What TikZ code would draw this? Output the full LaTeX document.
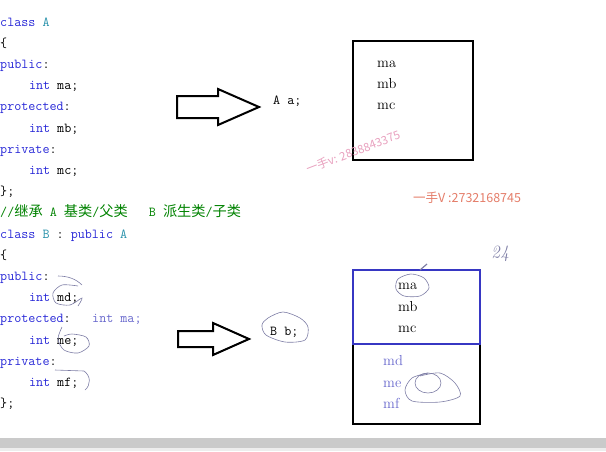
\documentclass[tikz,border=0pt]{standalone}
\usepackage{fontspec}
\newfontfamily\cjk{Noto Sans CJK SC}
\usetikzlibrary{positioning}
\definecolor{kwblue}{RGB}{40,40,215}
\definecolor{clsteal}{RGB}{40,145,170}
\definecolor{cmtgreen}{RGB}{0,130,0}
\definecolor{penblue}{RGB}{105,105,205}
\definecolor{boxblue}{RGB}{55,55,195}
\definecolor{inkgray}{RGB}{125,125,165}
\definecolor{markpink}{RGB}{232,160,190}
\definecolor{markorange}{RGB}{228,125,105}
\definecolor{bargray}{RGB}{202,202,202}

\newcommand{\kw}[1]{\textcolor{kwblue}{#1}}
\newcommand{\cls}[1]{\textcolor{clsteal}{#1}}

\tikzset{
  code/.style={anchor=base west, inner sep=0pt, font=\fontsize{13.7}{16}\ttfamily},
  member/.style={anchor=base west, inner sep=0pt, font=\fontsize{14.5}{16}\rmfamily},
  blockarrow/.style={draw, line width=2pt, fill=white, line join=miter},
  objbox/.style={draw, line width=2.4pt, inner sep=0pt, anchor=north west},
  ink/.style={inkgray, line width=0.6pt},
}

\begin{document}
\begin{tikzpicture}[x=1pt, y=-1pt]
  \useasboundingbox (0,0) rectangle (606,451);
  % class A
  \foreach \i/\txt in {0/{\kw{class} \cls{A}}, 1/{\{}, 2/{\kw{public}:}, 4/{\kw{protected}:}, 6/{\kw{private}:}, 8/{\};}}
    \node[code] (codea\i) at (0,26+21.2*\i) {\txt};
  \foreach \i/\var in {3/ma, 5/mb, 7/mc}
    \node[code] (codea\i) at (28.8,26+21.2*\i) {\kw{int} \var;};
  % class B
  \node[code, text=cmtgreen] (comment) at (0,26+21.2*9)
    {//{\cjk\fontsize{14.2}{16}\selectfont 继承} A {\cjk\fontsize{14.2}{16}\selectfont 基类}/{\cjk\fontsize{14.2}{16}\selectfont 父类}\ \ \ B {\cjk\fontsize{14.2}{16}\selectfont 派生类}/{\cjk\fontsize{14.2}{16}\selectfont 子类}};
  \foreach \i/\txt in {10/{\kw{class} \cls{B} : \kw{public} \cls{A}}, 11/{\{}, 12/{\kw{public}:}, 14/{\kw{protected}:}, 16/{\kw{private}:}, 18/{\};}}
    \node[code] (codeb\i) at (0,26+21.2*\i) {\txt};
  \foreach \i/\var in {13/md, 15/me, 17/mf}
    \node[code] (codeb\i) at (28.8,26+21.2*\i) {\kw{int} \var;};
  \node[code, text=penblue] (inherited) at (92,26+21.2*14) {int ma;};

  % object a
  \draw[blockarrow] (177,96) -- (218,96) -- (218,89) -- (259,107) -- (218,125) -- (218,118) -- (177,118) -- cycle;
  \node[code] (obja) at (273,104) {A a;};
  \node[objbox, minimum width=120, minimum height=119] (boxa) at (352,40) {};
  \foreach \y/\m in {67/ma, 88/mb, 109/mc}
    \node[member] (a\m) at (377,\y) {\m};

  % object b
  \draw[blockarrow] (178,331) -- (213,331) -- (213,323) -- (249,339) -- (213,355) -- (213,347) -- (178,347) -- cycle;
  \node[code] (objb) at (270,335) {B b;};
  \node[objbox, minimum width=127, minimum height=154] (boxb) at (352,269) {};
  \node[objbox, draw=boxblue, line width=2pt, minimum width=127, minimum height=74] (basepart) at (352,269) {};
  \foreach \y/\m in {289/ma, 311/mb, 332/mc}
    \node[member] (b\m) at (398,\y) {\m};
  \foreach \y/\m in {365/md, 387/me, 408/mf}
    \node[member, text=penblue] (b\m) at (383,\y) {\m};

  % pen marks
  \draw[ink] plot[smooth cycle] coordinates {(398,279) (411,274) (424,278) (429,288) (420,296) (404,296) (396,289)};
  \draw[inkgray, line width=1.2pt] (420,270) -- (427,264);
  \draw[ink] (428,383) ellipse [x radius=13, y radius=10];
  \draw[ink] plot[smooth] coordinates {(420,376) (440,373) (455,383) (460,396) (440,402) (412,401) (405,390) (412,378) (428,373)};
  \draw[ink] plot[smooth cycle] coordinates {(268,318) (283,312) (300,318) (308,327) (305,340) (285,342) (266,335) (262,325)};
  \draw[ink] (58,276) .. controls (68,276) and (76,279) .. (82,285);
  \draw[ink] plot[smooth] coordinates {(78,286) (62,285) (53,293) (56,303) (70,305) (82,298) (78,306)};
  \draw[ink] plot[smooth] coordinates {(62,327) (58,339) (64,350) (78,353) (89,346) (86,337) (72,334) (64,336)};
  \draw[ink] (55,370) -- (84,371) .. controls (91,376) and (91,385) .. (85,390);
  \node[font=\fontsize{18}{18}\itshape, text=inkgray, rotate=4] (pagenote) at (500,254) {24};

  % watermarks
  \node[font=\cjk\fontsize{11.5}{12}\selectfont, text=markpink, rotate=21, anchor=base west, inner sep=0pt] (markone) at (308,174) {一手v: 2838843375};
  \node[font=\cjk\fontsize{12.5}{13}\selectfont, text=markorange, anchor=base west, inner sep=0pt] (marktwo) at (413,202) {一手V :2732168745};

  % window bar
  \fill[bargray] (0,438) rectangle (606,448);
  \fill[black!7] (0,448) rectangle (606,451);
\end{tikzpicture}
\end{document}
